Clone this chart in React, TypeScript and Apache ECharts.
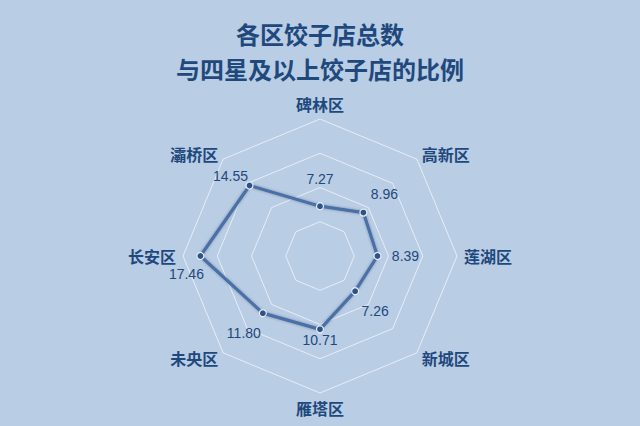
import { useEffect, useRef } from 'react';
import * as echarts from 'echarts';

// districts, counter-clockwise from the top (ECharts radar order)
const districts = ['碑林区', '灞桥区', '长安区', '未央区', '雁塔区', '新城区', '莲湖区', '高新区'];
const ratios = [7.27, 14.55, 17.46, 11.8, 10.71, 7.26, 8.39, 8.96];
// label offset from the point [dx, dy], same order as districts
const labelOffsets = [
  [0, -27],
  [-19, -10],
  [-14, 18],
  [-19, 20],
  [0, 11],
  [20, 20],
  [28, 0],
  [21, -19],
];

const titleText = '各区饺子店总数\n与四星及以上饺子店的比例';
const font = '"Noto Sans CJK SC", sans-serif';

function App() {
  const chartRef = useRef<HTMLDivElement>(null);

  useEffect(() => {
    if (!chartRef.current) return;
    const chart = echarts.init(chartRef.current, null, { renderer: 'svg' });

    const rich: Record<string, any> = {};
    labelOffsets.forEach(([dx, dy], i) => {
      rich['p' + i] = {
        fontSize: 14,
        color: '#24487a',
        fontFamily: 'Liberation Sans, sans-serif',
        padding: [dy > 0 ? dy * 2 : 0, dx < 0 ? -dx * 2 : 0, dy < 0 ? -dy * 2 : 0, dx > 0 ? dx * 2 : 0],
      };
    });

    chart.setOption({
      animation: false,
      backgroundColor: '#b9cde5',
      title: {
        text: titleText,
        left: 'center',
        top: 11,
        textStyle: {
          fontFamily: font,
          fontSize: 24,
          lineHeight: 35,
          fontWeight: 'bold',
          color: '#1F497D',
        },
      },
      radar: {
        center: [320, 256],
        radius: 137,
        startAngle: 90,
        splitNumber: 4,
        shape: 'polygon',
        nameGap: 7,
        indicator: districts.map(name => ({ name, min: 0, max: 20 })),
        axisName: {
          color: '#1F497D',
          fontSize: 16,
          fontWeight: 'bold',
          fontFamily: font,
        },
        axisLine: { show: false },
        axisTick: { show: false },
        axisLabel: { show: false },
        splitArea: { show: false },
        splitLine: { lineStyle: { color: 'rgba(255,255,255,0.65)', width: 1 } },
      },
      series: [
        {
          type: 'radar',
          symbol: 'circle',
          symbolSize: 7,
          lineStyle: {
            color: '#4a70a8',
            width: 3.2,
            shadowBlur: 3,
            shadowColor: 'rgba(0,0,0,0.3)',
          },
          itemStyle: {
            color: '#2d5488',
            borderColor: '#e8eef6',
            borderWidth: 1.2,
          },
          label: {
            show: true,
            position: 'inside',
            formatter: (p: any) => {
              const v = p.value as number;
              const i = p.dimensionIndex != null ? p.dimensionIndex : ratios.indexOf(v);
              return `{p${i}|${v.toFixed(2)}}`;
            },
            rich,
          },
          data: [{ value: ratios, name: '比例' }],
        },
      ],
    });

    return () => chart.dispose();
  }, []);

  return (
    <div
      ref={chartRef}
      style={{ position: 'fixed', left: 0, top: 0, width: '640px', height: '426px' }}
    />
  );
}

export default App;
